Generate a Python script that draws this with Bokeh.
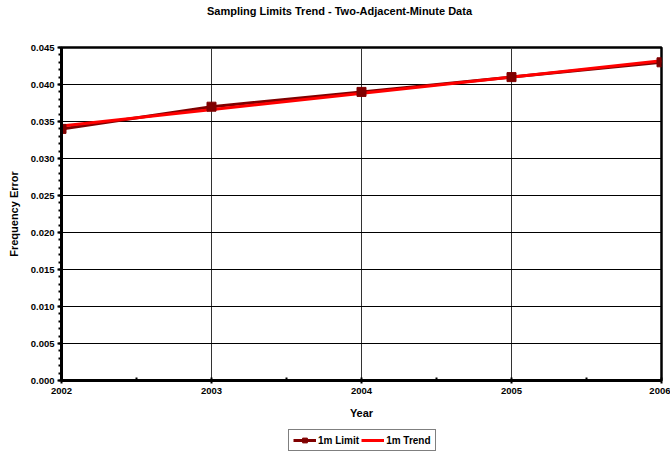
from bokeh.plotting import figure
from bokeh.layouts import column
from bokeh.models import (Range1d, FixedTicker, NumeralTickFormatter, Legend,
                          LegendItem, ColumnDataSource)
from bokeh.core.properties import value
from bokeh.embed import file_html
from bokeh.resources import INLINE

# Frequency-error limits per year and the fitted linear trend
years = [2002, 2003, 2004, 2005, 2006]
limit_1m = [0.034, 0.037, 0.039, 0.041, 0.043]
trend_years = [2002, 2006]
trend_1m = [0.0344, 0.0432]

y_ticks = [0.000, 0.005, 0.010, 0.015, 0.020, 0.025, 0.030, 0.035, 0.040, 0.045]
x_ticks = years

TITLE = "Sampling Limits Trend - Two-Adjacent-Minute Data"
FONT = "Liberation Sans"
LIMIT_COLOR = "#800000"
TREND_COLOR = "#FF0000"

# the column layout lines every frame up with the chart frame (x 61..661),
# so the strips use a range measured in page pixels
FRAME_LEFT, FRAME_RIGHT = 61, 661


def bare_strip(height):
    """A full-width figure with no axes, grid or outline."""
    f = figure(width=670, height=height, output_backend="svg",
               toolbar_location=None, title=None,
               x_range=Range1d(FRAME_LEFT, FRAME_RIGHT), y_range=Range1d(0, 1),
               x_axis_type=None, y_axis_type=None,
               min_border_left=0, min_border_right=0, min_border_top=0,
               min_border_bottom=0)
    f.outline_line_color = None
    f.xgrid.visible = False
    f.ygrid.visible = False
    return f


# heading strip
head = bare_strip(24)
head.text(x=[339], y=[0.55], text=[TITLE], text_align="center",
          text_baseline="middle", text_font=value(FONT),
          text_font_size="11px", text_font_style="bold", text_color="black")

# main chart
p = figure(width=670, height=401, output_backend="svg", toolbar_location=None,
           title=None, x_range=Range1d(2002, 2006), y_range=Range1d(0, 0.045),
           min_border_left=FRAME_LEFT, min_border_right=670 - FRAME_RIGHT,
           min_border_top=23, min_border_bottom=45)

p.outline_line_color = "black"
p.outline_line_width = 2.5

p.xgrid.ticker = FixedTicker(ticks=x_ticks)
p.ygrid.ticker = FixedTicker(ticks=y_ticks)
p.xgrid.grid_line_color = "#333333"
p.ygrid.grid_line_color = "black"
p.xgrid.grid_line_width = 1
p.ygrid.grid_line_width = 1

p.xaxis.ticker = FixedTicker(ticks=x_ticks,
                             minor_ticks=[2002.5, 2003.5, 2004.5, 2005.5])
p.yaxis.ticker = FixedTicker(ticks=y_ticks,
                             minor_ticks=[i / 1000 for i in range(46)])
p.yaxis.formatter = NumeralTickFormatter(format="0.000")
p.xaxis.formatter = NumeralTickFormatter(format="0")

for ax in (p.xaxis[0], p.yaxis[0]):
    ax.axis_line_width = 3
    ax.axis_line_color = "black"
    ax.major_tick_line_color = "black"
    ax.major_tick_line_width = 2
    ax.minor_tick_line_color = "black"
    ax.minor_tick_line_width = 2
    ax.major_label_text_font = FONT
    ax.major_label_text_font_size = "9.5px"
    ax.major_label_text_font_style = "bold"
    ax.major_label_text_color = "black"
    ax.axis_label_text_font = FONT
    ax.axis_label_text_font_size = "11px"
    ax.axis_label_text_font_style = "bold"
    ax.axis_label_text_color = "black"

p.xaxis.axis_label = "Year"
p.xaxis.major_tick_out = 3
p.xaxis.major_tick_in = 3
p.xaxis.minor_tick_out = 0
p.xaxis.minor_tick_in = 3
p.xaxis.major_label_standoff = 4
p.xaxis.axis_label_standoff = 10

p.yaxis.axis_label = "Frequency Error"
p.yaxis.major_tick_out = 4
p.yaxis.major_tick_in = 0
p.yaxis.minor_tick_out = 3
p.yaxis.minor_tick_in = 0
p.yaxis.major_label_standoff = 3
p.yaxis.axis_label_standoff = 8

src = ColumnDataSource(dict(x=years, y=limit_1m))
trend_src = ColumnDataSource(dict(x=trend_years, y=trend_1m))

p.line("x", "y", source=src, line_color=LIMIT_COLOR, line_width=3)
p.line("x", "y", source=trend_src, line_color=TREND_COLOR, line_width=3)
p.scatter("x", "y", source=src, marker="square", size=9,
          fill_color=LIMIT_COLOR, line_color=LIMIT_COLOR)

# key strip: the same series drawn against a range that keeps them out of
# view, so only their legend swatches show
key = bare_strip(28)
k_limit_line = key.line("x", "y", source=src, line_color=LIMIT_COLOR,
                        line_width=3)
k_limit_mark = key.scatter("x", "y", source=src, marker="square", size=9,
                           fill_color=LIMIT_COLOR, line_color=LIMIT_COLOR)
k_trend_line = key.line("x", "y", source=trend_src, line_color=TREND_COLOR,
                        line_width=3)

legend = Legend(items=[
    LegendItem(label="1m Limit", renderers=[k_limit_line, k_limit_mark]),
    LegendItem(label="1m Trend", renderers=[k_trend_line]),
], orientation="horizontal", location=(227, 2))
legend.border_line_color = "black"
legend.border_line_width = 1.5
legend.label_text_font = FONT
legend.label_text_font_size = "10px"
legend.label_text_font_style = "bold"
legend.label_text_color = "black"
legend.label_standoff = 2
legend.glyph_width = 23
legend.glyph_height = 12
legend.spacing = 2
legend.padding = 4
legend.margin = 0
legend.label_height = 12
key.add_layout(legend, "center")

layout = column(head, p, key, spacing=0)
open("out.html", "w").write(file_html(layout, INLINE))
